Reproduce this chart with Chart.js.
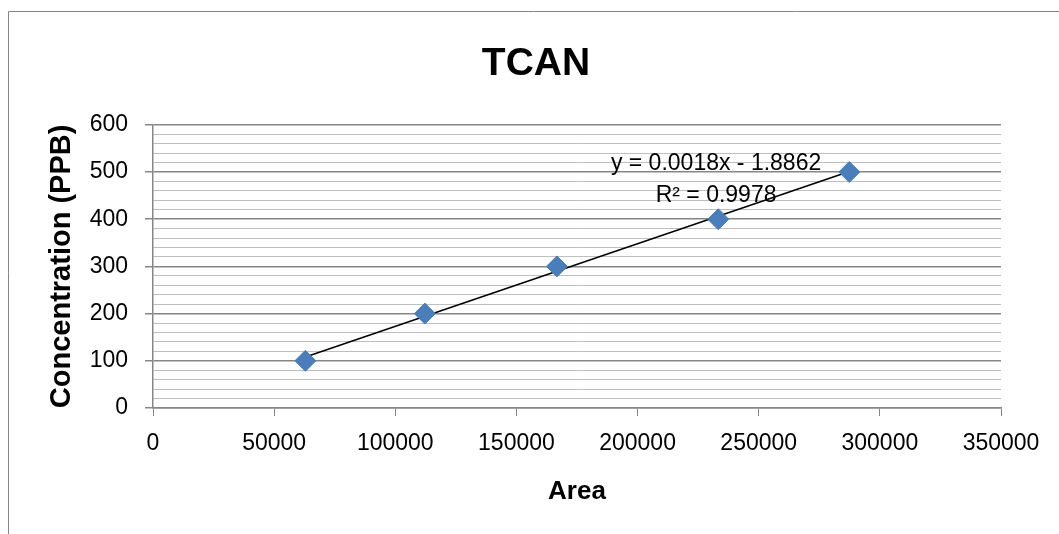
<!DOCTYPE html>
<html>
<head>
<meta charset="utf-8">
<script src="https://cdn.jsdelivr.net/npm/chart.js@4"></script>
<style>
  html, body { margin: 0; padding: 0; background: #fff; overflow: hidden; }
  #wrap { width: 1059px; height: 534px; }
</style>
</head>
<body>
<div id="wrap"><canvas id="tcanChart" width="1059" height="534"></canvas></div>
<script>
// calibration data
const areaValues = [62900, 112200, 166700, 233300, 287400];
const concValues = [100, 200, 300, 400, 500];
const eqLines = ["y = 0.0018x - 1.8862", "R² = 0.9978"];

const FONT = "'Liberation Sans', Arial, sans-serif";
const AXIS_GREY = "#868686";

// least squares fit for the trendline
function linearFit(xs, ys) {
    const n = xs.length;
    const mx = xs.reduce((a, b) => a + b, 0) / n;
    const my = ys.reduce((a, b) => a + b, 0) / n;
    let sxy = 0, sxx = 0;
    for (let i = 0; i < n; i++) {
        sxy += (xs[i] - mx) * (ys[i] - my);
        sxx += (xs[i] - mx) * (xs[i] - mx);
    }
    const slope = sxy / sxx;
    return { slope: slope, intercept: my - slope * mx };
}

const fit = linearFit(areaValues, concValues);
const xMin = Math.min(...areaValues);
const xMax = Math.max(...areaValues);
const points = areaValues.map((x, i) => ({ x: x, y: concValues[i] }));
const trend = [xMin, xMax].map(x => ({ x: x, y: fit.slope * x + fit.intercept }));

// outer chart frame (only top and left are visible in the window)
const framePlugin = {
    id: "frame",
    beforeDraw(chart) {
        const c = chart.ctx;
        c.save();
        c.strokeStyle = AXIS_GREY;
        c.lineWidth = 1;
        c.beginPath();
        c.moveTo(8.5, chart.height);
        c.lineTo(8.5, 11.5);
        c.lineTo(chart.width, 11.5);
        c.stroke();
        c.restore();
    }
};

// trendline equation label
const eqPlugin = {
    id: "equation",
    afterDatasetsDraw(chart) {
        const c = chart.ctx;
        const xs = chart.scales.x, ys = chart.scales.y;
        const cx = xs.getPixelForValue(232400);
        c.save();
        c.font = "23px " + FONT;
        c.fillStyle = "#000";
        c.textAlign = "center";
        c.textBaseline = "alphabetic";
        c.fillText(eqLines[0], cx, ys.getPixelForValue(505));
        c.fillText(eqLines[1], cx, ys.getPixelForValue(437));
        c.restore();
    }
};

const isMajor = ctx => ctx.tick && ctx.tick.value % 100 === 0;

new Chart(document.getElementById("tcanChart").getContext("2d"), {
    type: "scatter",
    data: {
        datasets: [
            {
                label: "Concentration",
                data: points,
                pointStyle: "rectRot",
                pointRadius: 10.5,
                pointHoverRadius: 10.5,
                backgroundColor: "#4A7EBB",
                borderColor: "#4A7EBB",
                borderWidth: 1
            },
            {
                type: "line",
                label: "Linear",
                data: trend,
                borderColor: "#000",
                borderWidth: 1.5,
                pointRadius: 0,
                fill: false
            }
        ]
    },
    options: {
        responsive: false,
        animation: false,
        layout: { padding: { left: 26, right: 13, top: 41, bottom: 18 } },
        plugins: {
            legend: { display: false },
            tooltip: { enabled: false },
            title: {
                display: true,
                text: "TCAN",
                color: "#000",
                font: { family: FONT, size: 39, weight: "bold" },
                padding: { top: 0, bottom: 37 }
            }
        },
        scales: {
            x: {
                type: "linear",
                min: 0,
                max: 350000,
                afterFit: s => { s.height = 108; },
                ticks: {
                    stepSize: 50000,
                    color: "#000",
                    font: { family: FONT, size: 23 },
                    padding: 14,
                    maxRotation: 0,
                    callback: v => String(v)
                },
                grid: {
                    drawOnChartArea: false,
                    tickLength: 8,
                    tickColor: AXIS_GREY
                },
                border: { color: AXIS_GREY, width: 1.5 },
                title: {
                    display: true,
                    text: "Area",
                    color: "#000",
                    font: { family: FONT, size: 26, weight: "bold" },
                    padding: { top: 0, bottom: 9 }
                }
            },
            y: {
                min: 0,
                max: 600,
                afterFit: s => { s.width = 127; },
                ticks: {
                    stepSize: 20,
                    autoSkip: false,
                    color: "#000",
                    font: { family: FONT, size: 23 },
                    padding: 17,
                    callback: v => (v % 100 === 0 ? String(v) : "")
                },
                grid: {
                    tickLength: 8,
                    color: ctx => (isMajor(ctx) ? AXIS_GREY : "#BFBFBF"),
                    tickColor: ctx => (isMajor(ctx) ? AXIS_GREY : "rgba(0,0,0,0)"),
                    lineWidth: ctx => (isMajor(ctx) ? 1.5 : 1)
                },
                border: { color: AXIS_GREY, width: 1.5 },
                title: {
                    display: true,
                    text: "Concentration (PPB)",
                    color: "#000",
                    font: { family: FONT, size: 29, weight: "bold" },
                    padding: { top: 19, bottom: 0 }
                }
            },
            // empty right-hand axis, only reserves the space right of the plot
            yRight: {
                position: "right",
                display: true,
                afterFit: s => { s.width = 45; },
                ticks: { display: false },
                grid: { display: false },
                border: { display: false }
            }
        }
    },
    plugins: [framePlugin, eqPlugin]
});
</script>
</body>
</html>
